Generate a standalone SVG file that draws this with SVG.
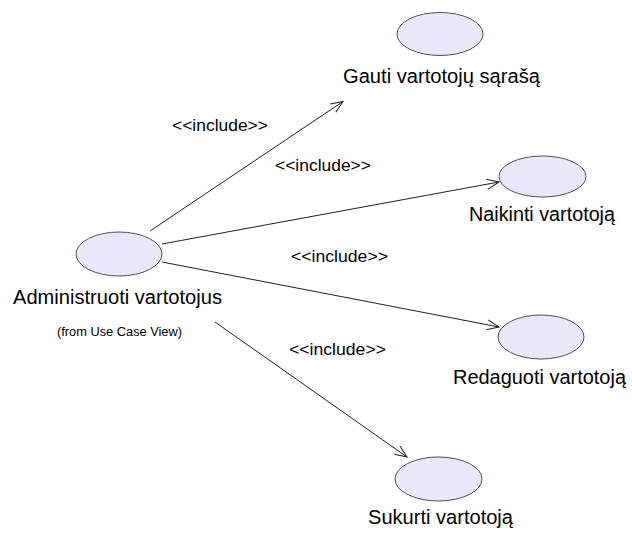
<svg xmlns="http://www.w3.org/2000/svg" width="632" height="533" viewBox="0 0 632 533">
<style>
.uc{fill:#E8E8FA;stroke:#505050;stroke-width:1}
.lbl{font-family:"Liberation Sans",Arial,sans-serif;font-size:19.5px;fill:#000;text-anchor:middle}
.inc{font-family:"Liberation Sans",Arial,sans-serif;font-size:16.5px;fill:#000}
.small{font-family:"Liberation Sans",Arial,sans-serif;font-size:12px;fill:#000;text-anchor:middle}
.conn{stroke:#202020;stroke-width:1;fill:none;marker-end:url(#arr)}
</style>
<defs>
<marker id="arr" markerUnits="userSpaceOnUse" markerWidth="14" markerHeight="12" refX="13" refY="6" orient="auto">
<path d="M1,1 L13,6 L1,11" fill="none" stroke="#202020" stroke-width="1"/>
</marker>
</defs>
<g id="connectors">
<line class="conn" x1="150" y1="231" x2="343" y2="101.5"/>
<line class="conn" x1="162" y1="244" x2="499" y2="182"/>
<line class="conn" x1="162" y1="262" x2="499" y2="327"/>
<line class="conn" x1="215" y1="322" x2="407" y2="457"/>
<text class="inc" x="172" y="131" textLength="96" lengthAdjust="spacingAndGlyphs">&lt;&lt;include&gt;&gt;</text>
<text class="inc" x="275" y="171" textLength="96" lengthAdjust="spacingAndGlyphs">&lt;&lt;include&gt;&gt;</text>
<text class="inc" x="291" y="262" textLength="97" lengthAdjust="spacingAndGlyphs">&lt;&lt;include&gt;&gt;</text>
<text class="inc" x="289" y="355" textLength="97" lengthAdjust="spacingAndGlyphs">&lt;&lt;include&gt;&gt;</text>
</g>
<g id="admin">
<ellipse class="uc" cx="119" cy="254" rx="43" ry="22"/>
<text class="lbl" x="117.5" y="304" textLength="209" lengthAdjust="spacingAndGlyphs">Administruoti vartotojus</text>
<text class="small" x="119.5" y="336" textLength="125" lengthAdjust="spacingAndGlyphs">(from Use Case View)</text>
</g>
<g id="gauti">
<ellipse class="uc" cx="440" cy="34" rx="43" ry="21.5"/>
<text class="lbl" x="441.5" y="83" textLength="197" lengthAdjust="spacingAndGlyphs">Gauti vartotojų sąrašą</text>
</g>
<g id="naikinti">
<ellipse class="uc" cx="542.5" cy="176.5" rx="43.5" ry="20.5"/>
<text class="lbl" x="542" y="221" textLength="146" lengthAdjust="spacingAndGlyphs">Naikinti vartotoją</text>
</g>
<g id="redaguoti">
<ellipse class="uc" cx="541" cy="337" rx="43" ry="22"/>
<text class="lbl" x="539.5" y="384" textLength="173" lengthAdjust="spacingAndGlyphs">Redaguoti vartotoją</text>
</g>
<g id="sukurti">
<ellipse class="uc" cx="438.5" cy="479" rx="43.5" ry="22"/>
<text class="lbl" x="440.5" y="524" textLength="145" lengthAdjust="spacingAndGlyphs">Sukurti vartotoją</text>
</g>
</svg>
